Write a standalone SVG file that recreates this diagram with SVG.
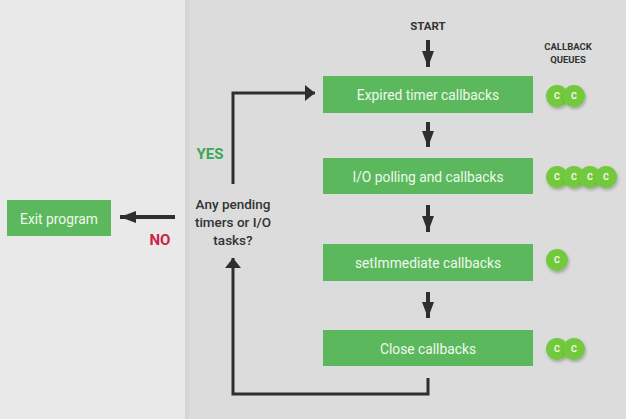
<svg xmlns="http://www.w3.org/2000/svg" width="626" height="419" viewBox="0 0 626 419">
<defs>
<filter id="sh" x="-50%" y="-50%" width="200%" height="200%">
<feDropShadow dx="1" dy="2" stdDeviation="1.5" flood-color="#000" flood-opacity="0.25"/>
</filter>
<marker id="ah" viewBox="0 0 16 12" refX="16" refY="6" markerWidth="16" markerHeight="12" markerUnits="userSpaceOnUse" orient="auto">
<path d="M0,0 L16,6 L0,12 Z" fill="#2e2e2e"/>
</marker>
<marker id="ahs" viewBox="0 0 10 16" refX="10" refY="8" markerWidth="10" markerHeight="16" markerUnits="userSpaceOnUse" orient="auto">
<path d="M0,0 L10,8 L0,16 Z" fill="#2e2e2e"/>
</marker>
</defs>
<style>
.box{fill:#5cb85c}
.bt{font-family:Roboto,"Liberation Sans",sans-serif;font-size:13.8px;fill:#eef8ee;text-anchor:middle}
.lbl{font-family:Roboto,"Liberation Sans",sans-serif;font-weight:bold;fill:#333;text-anchor:middle}
.q{font-family:Roboto,"Liberation Sans",sans-serif;font-size:13.5px;fill:#333;text-anchor:middle;font-weight:500}
.ar{stroke:#2e2e2e;stroke-width:4;fill:none}
.ln{stroke:#2e2e2e;stroke-width:3;fill:none}
.c{fill:#72c93c;filter:url(#sh)}
.ct{font-family:Roboto,"Liberation Sans",sans-serif;font-size:9px;font-weight:bold;fill:#f4fbe8;text-anchor:middle}
</style>
<rect x="0" y="0" width="626" height="419" fill="#e9e9e9"/>
<rect x="185" y="0" width="441" height="419" fill="#dcdcdc"/>
<rect x="185" y="0" width="4" height="419" fill="#d6d6d6"/>

<text class="lbl" x="428" y="30" font-size="11.5">START</text>
<text class="lbl" x="568" y="50" font-size="9.5">CALLBACK</text>
<text class="lbl" x="568" y="63" font-size="9.5">QUEUES</text>

<g id="connectors">
<path class="ar" d="M428,40 V67" marker-end="url(#ah)"/>
<path class="ar" d="M428,122 V147" marker-end="url(#ah)"/>
<path class="ar" d="M428,205 V232" marker-end="url(#ah)"/>
<path class="ar" d="M428,292 V318" marker-end="url(#ah)"/>
<path class="ln" d="M233,184 V93 H315" marker-end="url(#ahs)"/>
<path class="ln" d="M428,378 V394 H233 V258" marker-end="url(#ahs)"/>
<path class="ar" d="M175,217 H120" marker-end="url(#ah)"/>
</g>

<g id="expired">
<rect class="box" x="323" y="76" width="210" height="37"/>
<text class="bt" x="428" y="99.5">Expired timer callbacks</text>
</g>
<g id="io">
<rect class="box" x="323" y="158" width="210" height="36"/>
<text class="bt" x="428" y="181.5">I/O polling and callbacks</text>
</g>
<g id="setimmediate">
<rect class="box" x="323" y="244" width="210" height="37"/>
<text class="bt" x="428" y="267.5">setImmediate callbacks</text>
</g>
<g id="close">
<rect class="box" x="323" y="330" width="210" height="36"/>
<text class="bt" x="428" y="353.5">Close callbacks</text>
</g>
<g id="exit">
<rect class="box" x="7" y="200" width="104" height="36"/>
<text class="bt" x="59" y="223.5">Exit program</text>
</g>
<g id="decision">
<text class="q" x="233" y="209">Any pending</text>
<text class="q" x="233" y="227">timers or I/O</text>
<text class="q" x="233" y="245">tasks?</text>
</g>
<text x="210" y="159" font-family="Roboto,'Liberation Sans',sans-serif" font-size="15" font-weight="bold" fill="#3aa657" text-anchor="middle">YES</text>
<text x="160" y="245" font-family="Roboto,'Liberation Sans',sans-serif" font-size="15" font-weight="bold" fill="#c8254a" text-anchor="middle">NO</text>

<g id="q-expired">
<circle class="c" cx="557" cy="96" r="11"/><text class="ct" x="557" y="99">C</text>
<circle class="c" cx="574" cy="96" r="11"/><text class="ct" x="574" y="99">C</text>
</g>
<g id="q-io">
<circle class="c" cx="557" cy="177" r="11"/><text class="ct" x="557" y="180">C</text>
<circle class="c" cx="574" cy="177" r="11"/><text class="ct" x="574" y="180">C</text>
<circle class="c" cx="590" cy="177" r="11"/><text class="ct" x="590" y="180">C</text>
<circle class="c" cx="606" cy="177" r="11"/><text class="ct" x="606" y="180">C</text>
</g>
<g id="q-setimmediate">
<circle class="c" cx="557" cy="260" r="11"/><text class="ct" x="557" y="263">C</text>
</g>
<g id="q-close">
<circle class="c" cx="557" cy="349" r="11"/><text class="ct" x="557" y="352">C</text>
<circle class="c" cx="574" cy="349" r="11"/><text class="ct" x="574" y="352">C</text>
</g>
</svg>
